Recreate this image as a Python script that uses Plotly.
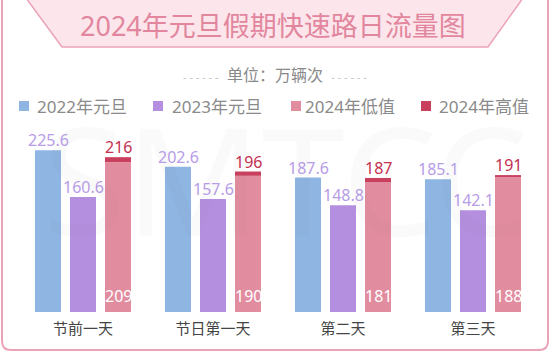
import plotly.graph_objects as go

categories = ["节前一天", "节日第一天", "第二天", "第三天"]
v2022 = [225.6, 202.6, 187.6, 185.1]
v2023 = [160.6, 157.6, 148.8, 142.1]
low2024 = [209, 190, 181, 188]
high2024 = [216, 196, 187, 191]
series_names = ["2022年元旦", "2023年元旦", "2024年低值", "2024年高值"]

C_BLUE = "#8fb5e2"
C_PURPLE = "#b48fe0"
C_PINK = "#e28c9f"
C_RED = "#c9405e"
C_LAV = "#b79ce6"
C_DRED = "#c4304f"
FONT = "Noto Sans, Noto Sans CJK SC, sans-serif"

W, H = 550, 354
ML, MR, MT, MB = 18, 12, 130, 42
PW, PH = W - ML - MR, H - MT - MB
SLOT = 35  # pixel distance between bar centres within a group


def X(px):
    return (px - ML) / PW


def Y(py):
    return (H - MB - py) / PH


fig = go.Figure()
fig.add_bar(x=categories, y=v2022, name=series_names[0], marker_color=C_BLUE, offsetgroup="a")
fig.add_bar(x=categories, y=v2023, name=series_names[1], marker_color=C_PURPLE, offsetgroup="b")
fig.add_bar(x=categories, y=low2024, name=series_names[2], marker_color=C_PINK, offsetgroup="c")
fig.add_bar(x=categories, y=[h - l for h, l in zip(high2024, low2024)],
            base=low2024, name=series_names[3], marker_color=C_RED, offsetgroup="c")
fig.update_traces(marker_line_width=0)

shapes = []
# card border with rounded corners
x0, x1, y0, y1, r = 2, 548, -6, 350, 9
path = (f"M {X(x0)},{Y(y0)} L {X(x0)},{Y(y1 - r)} Q {X(x0)},{Y(y1)} {X(x0 + r)},{Y(y1)} "
        f"L {X(x1 - r)},{Y(y1)} Q {X(x1)},{Y(y1)} {X(x1)},{Y(y1 - r)} L {X(x1)},{Y(y0)} Z")
shapes.append(dict(type="path", xref="paper", yref="paper", path=path,
                   line=dict(color="#eaa3b6", width=2), fillcolor="rgba(0,0,0,0)", layer="below"))
# title banner trapezoid
tpath = (f"M {X(26)},{Y(-2)} L {X(62)},{Y(47)} L {X(488)},{Y(47)} L {X(523)},{Y(-2)} Z")
shapes.append(dict(type="path", xref="paper", yref="paper", path=tpath,
                   line=dict(color="#eba2b6", width=1.5), fillcolor="#fce6ec", layer="below"))

annotations = []
# watermark (very faint)
annotations.append(dict(xref="paper", yref="paper", x=X(285), y=Y(178), text="SMTCC",
                        showarrow=False, xanchor="center", yanchor="middle",
                        font=dict(family="Noto Sans", size=150, color="rgba(120,120,120,0.035)")))
annotations.append(dict(xref="paper", yref="paper", x=X(273), y=Y(25), text="2024年元旦假期快速路日流量图",
                        showarrow=False, xanchor="center", yanchor="middle",
                        font=dict(family=FONT, size=27, color="#e2869e")))
annotations.append(dict(xref="paper", yref="paper", x=X(275), y=Y(75),
                        text='<span style="color:#c4c4c4;font-size:11px">- - - - - -</span>  单位：万辆次  <span style="color:#c4c4c4;font-size:11px">- - - - - -</span>',
                        showarrow=False, xanchor="center", yanchor="middle",
                        font=dict(family=FONT, size=16, color="#8a8a8a")))

# value labels (placed on the data axes)
lab_font = dict(family=FONT, size=16)
for cat, a, b, lo, hi in zip(categories, v2022, v2023, low2024, high2024):
    annotations.append(dict(x=cat, y=a, xref="x", yref="y", text=str(a), showarrow=False,
                            xanchor="center", yanchor="bottom", xshift=-SLOT, yshift=-3,
                            font=dict(lab_font, color=C_LAV)))
    annotations.append(dict(x=cat, y=b, xref="x", yref="y", text=str(b), showarrow=False,
                            xanchor="center", yanchor="bottom", xshift=0, yshift=-3,
                            font=dict(lab_font, color=C_LAV)))
    annotations.append(dict(x=cat, y=hi, xref="x", yref="y", text=str(hi), showarrow=False,
                            xanchor="center", yanchor="bottom", xshift=SLOT, yshift=-3,
                            font=dict(lab_font, color=C_DRED)))
    annotations.append(dict(x=cat, y=0, xref="x", yref="y", text=str(lo), showarrow=False,
                            xanchor="center", yanchor="bottom", xshift=SLOT, yshift=3,
                            font=dict(lab_font, color="white")))

# custom legend
leg_sq = [19, 153, 291, 421]
leg_tx = [35, 170, 303, 437]
leg_col = [C_BLUE, C_PURPLE, C_PINK, C_RED]
for sq, tx, col, nm in zip(leg_sq, leg_tx, leg_col, series_names):
    shapes.append(dict(type="rect", xref="paper", yref="paper",
                       x0=X(sq), x1=X(sq + 10), y0=Y(111), y1=Y(101),
                       fillcolor=col, line=dict(width=0)))
    annotations.append(dict(xref="paper", yref="paper", x=X(tx), y=Y(106), text=nm,
                            showarrow=False, xanchor="left", yanchor="middle",
                            font=dict(family=FONT, size=17, color="#8a8a8a")))

fig.update_layout(
    width=W, height=H,
    margin=dict(l=ML, r=MR, t=MT, b=MB, pad=0),
    paper_bgcolor="white", plot_bgcolor="white",
    barmode="group", bargap=0.192, bargroupgap=0.257,
    showlegend=False,
    shapes=shapes, annotations=annotations,
    font=dict(family=FONT),
    xaxis=dict(range=[-0.5, 3.5], showgrid=False, zeroline=False, showline=False, ticks="",
               ticklabelstandoff=6,
               tickfont=dict(family=FONT, size=15, color="#444444"), fixedrange=True),
    yaxis=dict(range=[0, PH / 0.7168], visible=False, fixedrange=True),
)

fig.write_html("out.html", config={"displayModeBar": False})
